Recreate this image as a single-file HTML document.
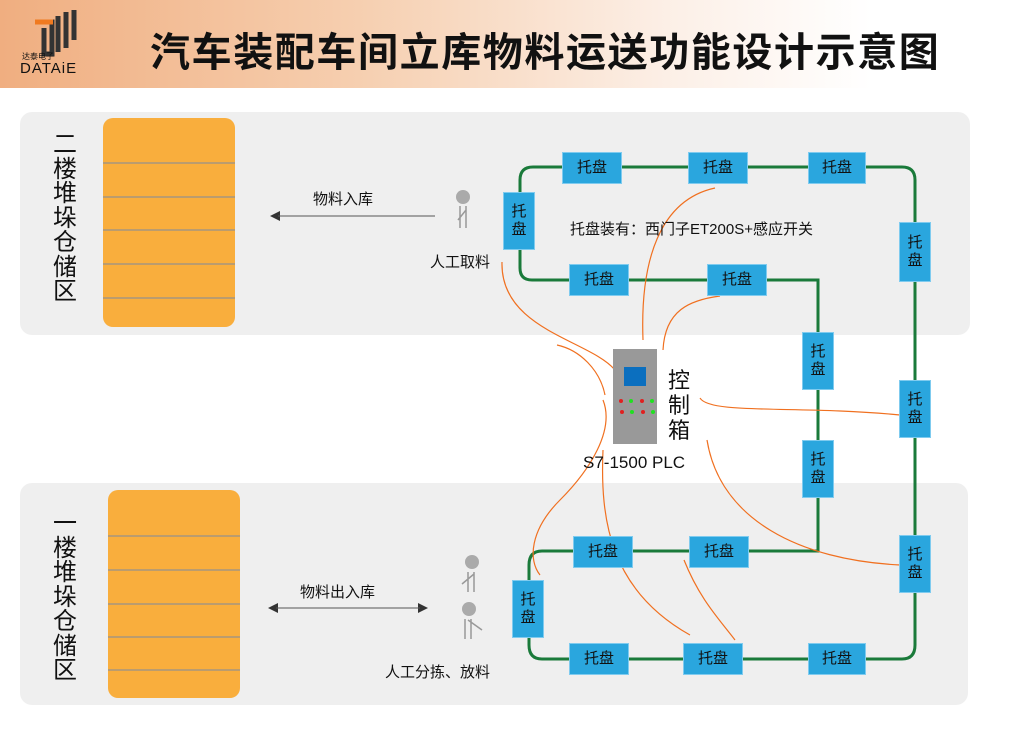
<!DOCTYPE html>
<html><head><meta charset="utf-8"><style>
body{margin:0;width:1025px;height:732px;overflow:hidden;background:#fff;font-family:"Liberation Sans","Noto Sans CJK SC",sans-serif;position:relative}
.hd{position:absolute;left:0;top:0;width:1025px;height:88px;background:linear-gradient(90deg,#f0ae80 0%,#f6cfb0 35%,#fcefe6 65%,#fff 85%)}
.t{position:absolute;font-family:"Liberation Sans","Noto Sans CJK SC",sans-serif;color:#111;white-space:nowrap}
.tray{position:absolute;background:#2aa6de;border:1px solid #7fcbef;box-sizing:border-box;display:flex;align-items:center;justify-content:center;font-size:15px;color:#111;font-family:"Liberation Sans","Noto Sans CJK SC",sans-serif;line-height:18px;text-align:center}
</style></head><body>
<div class="hd"></div>
<svg style="position:absolute;left:0;top:0" width="1025" height="732">
<g fill="none" stroke-width="5"><path d="M38 22 h14 v32 h-8 v-26" stroke="#333"/><path d="M35 22 h18" stroke="#f07a20"/><path d="M58 16 v36 M66 12 v36 M74 10 v30" stroke="#333"/></g>
<rect x="20" y="112" width="950" height="223" rx="12" fill="#efefef"/>
<rect x="20" y="483" width="948" height="222" rx="12" fill="#efefef"/>
<rect x="103" y="118" width="132" height="209" rx="10" fill="#f9ae3d"/>
<rect x="108" y="490" width="132" height="208" rx="10" fill="#f9ae3d"/>
<g stroke="#7d8aa0" stroke-width="1"><path d="M103 163h132M103 197h132M103 230h132M103 264h132M103 298h132"/><path d="M108 536h132M108 570h132M108 604h132M108 637h132M108 670h132"/></g>
<path d="M520 180 Q520 167 533 167 H902 Q915 167 915 180 V645 Q915 659 902 659 H542 Q529 659 529 645 V565 Q529 551 542 551 H818 V280 H532 Q520 280 520 268 Z" fill="none" stroke="#1a7a3a" stroke-width="3"/>
<g fill="none" stroke="#f07020" stroke-width="1.2">
<path d="M502 262 C500 330 590 340 615 370"/>
<path d="M643 340 C640 260 660 200 715 188"/>
<path d="M663 350 C665 310 690 300 720 296"/>
<path d="M700 398 C710 415 800 405 900 415"/>
<path d="M707 440 C720 520 800 560 900 565"/>
<path d="M603 400 C615 430 590 470 560 500 C530 530 528 560 540 575"/>
<path d="M603 450 C600 520 610 590 690 635"/>
<path d="M684 560 C700 600 720 620 735 640"/>
<path d="M557 345 C580 350 600 370 605 395"/>
</g>
<g fill="#333"><path d="M270 216 l10 -5 v10z"/><path d="M268 608 l10 -5 v10z"/><path d="M428 608 l-10 -5 v10z"/></g>
<g stroke="#555" stroke-width="1"><path d="M278 216 H435"/><path d="M276 608 H420"/></g>
<g fill="#aaa" stroke="#999" stroke-width="1.5">
<circle cx="463" cy="197" r="7" stroke="none"/><path d="M460 206 v22 M466 206 v22 M466 210 l-8 10" fill="none"/>
<circle cx="472" cy="562" r="7" stroke="none"/><path d="M468 572 v20 M474 572 v20 M474 574 l-12 10" fill="none"/>
<circle cx="469" cy="609" r="7" stroke="none"/><path d="M465 619 v20 M471 619 v20 M468 620 l14 10" fill="none"/>
</g>
<rect x="613" y="349" width="44" height="95" fill="#999"/>
<rect x="624" y="367" width="22" height="19" fill="#0b6fbf"/>
<g fill="#e02020"><circle cx="621" cy="401" r="2"/><circle cx="642" cy="401" r="2"/><circle cx="622" cy="412" r="2"/><circle cx="643" cy="412" r="2"/></g>
<g fill="#20e020"><circle cx="631" cy="401" r="2"/><circle cx="652" cy="401" r="2"/><circle cx="632" cy="412" r="2"/><circle cx="653" cy="412" r="2"/></g>
</svg>
<div class="t" style="left:22px;top:51px;font-size:8px">达泰电子</div>
<div class="t" style="left:20px;top:60px;font-size:15px;letter-spacing:1px">DATAiE</div>
<div class="t" style="left:150px;top:20px;font-size:40px;font-weight:bold;letter-spacing:1.6px">汽车装配车间立库物料运送功能设计示意图</div>
<div class="t" style="left:53px;top:133px;font-size:24px;line-height:24.5px;width:26px;white-space:normal">二楼堆垛仓储区</div>
<div class="t" style="left:53px;top:512px;font-size:24px;line-height:24.5px;width:26px;white-space:normal">一楼堆垛仓储区</div>
<div class="t" style="left:313px;top:188px;font-size:15px">物料入库</div>
<div class="t" style="left:300px;top:581px;font-size:15px">物料出入库</div>
<div class="t" style="left:430px;top:251px;font-size:15px">人工取料</div>
<div class="t" style="left:385px;top:661px;font-size:15px">人工分拣、放料</div>
<div class="t" style="left:570px;top:218px;font-size:15px">托盘装有：西门子ET200S+感应开关</div>
<div class="t" style="left:668px;top:368px;font-size:22px;line-height:25px;width:24px;white-space:normal">控制箱</div>
<div class="t" style="left:583px;top:453px;font-size:17px">S7-1500 PLC</div>
<div class="tray" style="left:562px;top:152px;width:60px;height:32px">托盘</div>
<div class="tray" style="left:688px;top:152px;width:60px;height:32px">托盘</div>
<div class="tray" style="left:808px;top:152px;width:58px;height:32px">托盘</div>
<div class="tray" style="left:503px;top:192px;width:32px;height:58px">托<br>盘</div>
<div class="tray" style="left:569px;top:264px;width:60px;height:32px">托盘</div>
<div class="tray" style="left:707px;top:264px;width:60px;height:32px">托盘</div>
<div class="tray" style="left:802px;top:332px;width:32px;height:58px">托<br>盘</div>
<div class="tray" style="left:802px;top:440px;width:32px;height:58px">托<br>盘</div>
<div class="tray" style="left:899px;top:222px;width:32px;height:60px">托<br>盘</div>
<div class="tray" style="left:899px;top:380px;width:32px;height:58px">托<br>盘</div>
<div class="tray" style="left:899px;top:535px;width:32px;height:58px">托<br>盘</div>
<div class="tray" style="left:573px;top:536px;width:60px;height:32px">托盘</div>
<div class="tray" style="left:689px;top:536px;width:60px;height:32px">托盘</div>
<div class="tray" style="left:512px;top:580px;width:32px;height:58px">托<br>盘</div>
<div class="tray" style="left:569px;top:643px;width:60px;height:32px">托盘</div>
<div class="tray" style="left:683px;top:643px;width:60px;height:32px">托盘</div>
<div class="tray" style="left:808px;top:643px;width:58px;height:32px">托盘</div>
</body></html>
